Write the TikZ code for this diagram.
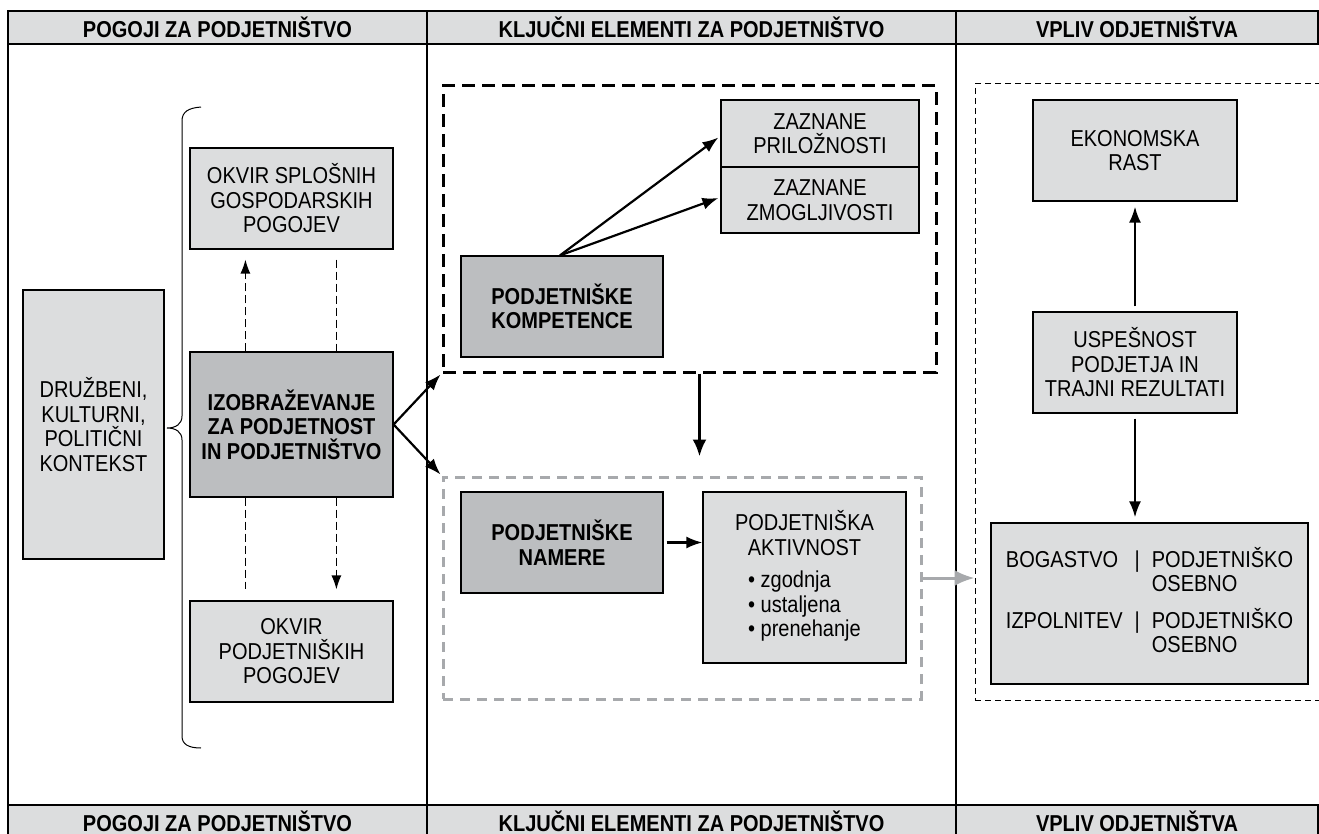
\documentclass[tikz,border=0pt]{standalone}
\usepackage{fontspec}
\setmainfont[FakeStretch=0.87]{Liberation Sans}
\usetikzlibrary{arrows.meta,calc}
\definecolor{lightbox}{HTML}{DCDDDE}
\definecolor{darkbox}{HTML}{BCBEC0}
\definecolor{grayline}{HTML}{A7A9AC}
\tikzset{
  txt/.style={font=\fontsize{23}{24.5}\selectfont, align=center, inner sep=0pt},
  lbox/.style={txt, draw=black, line width=1.2pt, fill=lightbox},
  dbox/.style={txt, draw=black, line width=1.2pt, fill=darkbox, font=\fontsize{23}{24.5}\selectfont\bfseries},
  hdr/.style={txt, draw=black, line width=1.2pt, fill=lightbox, font=\fontsize{23}{24.5}\selectfont\bfseries},
  arr/.style={line width=2.2pt, -{Latex[length=16pt,width=12pt]}},
  dsh/.style={line width=1.2pt, dash pattern=on 8pt off 4pt},
  dtip/.style={-{Latex[length=14pt,width=10pt]}},
}
\begin{document}
\begin{tikzpicture}[x=1pt,y=-1pt]
\clip (0,0) rectangle (1319,834);
\fill[white] (0,0) rectangle (1319,834);
% frame
\draw[line width=1.2pt] (8,11) -- (8,840);
\draw[line width=1.2pt] (427,11) -- (427,840);
\draw[line width=1.2pt] (956,11) -- (956,840);
% headers
\node[hdr, minimum width=419, minimum height=33] (h1) at (217.5,27.5) {POGOJI ZA PODJETNIŠTVO};
\node[hdr, minimum width=529, minimum height=33] (h2) at (691.5,27.5) {KLJUČNI ELEMENTI ZA PODJETNIŠTVO};
\node[hdr, minimum width=362, minimum height=33] (h3) at (1137,27.5) {VPLIV ODJETNIŠTVA};
\node[hdr, minimum width=419, minimum height=33] (f1) at (217.5,821.5) {POGOJI ZA PODJETNIŠTVO};
\node[hdr, minimum width=529, minimum height=33] (f2) at (691.5,821.5) {KLJUČNI ELEMENTI ZA PODJETNIŠTVO};
\node[hdr, minimum width=362, minimum height=33] (f3) at (1137,821.5) {VPLIV ODJETNIŠTVA};
% column 1
\node[lbox, minimum width=141, minimum height=269] (ctx) at (93.5,424.5) {DRUŽBENI,\\KULTURNI,\\POLITIČNI\\KONTEKST};
\draw[line width=1pt] (201,107) .. controls (188,108) and (182,112) .. (182,121) -- (182,416) .. controls (182,424) and (176,428) .. (167,428) .. controls (176,428) and (182,432) .. (182,440) -- (182,736) .. controls (182,744) and (188,748) .. (201,748);
\node[lbox, minimum width=203, minimum height=101] (oks) at (291.5,198.5) {OKVIR SPLOŠNIH\\GOSPODARSKIH\\POGOJEV};
\node[dbox, minimum width=203, minimum height=145] (izo) at (291.5,424.5) {IZOBRAŽEVANJE\\ZA PODJETNOST\\IN PODJETNIŠTVO};
\node[lbox, minimum width=203, minimum height=101] (okp) at (291.5,651.5) {OKVIR\\PODJETNIŠKIH\\POGOJEV};
\draw[dsh,dtip] ([xshift=56pt]izo.north west) -- ([xshift=56pt,yshift=-10pt]oks.south west);
\draw[dsh] ([xshift=147pt,yshift=-10pt]oks.south west) -- ([xshift=147pt]izo.north west);
\draw[dsh] ([xshift=56pt]izo.south west) -- ([xshift=56pt,yshift=11pt]okp.north west);
\draw[dsh,dtip] ([xshift=147pt]izo.south west) -- ([xshift=147pt,yshift=11pt]okp.north west);
% column 2
\node[draw=black, line width=3pt, dash pattern=on 13pt off 7pt, minimum width=493, minimum height=286, inner sep=0pt] (comp) at (689.5,229) {};
\node[draw=grayline, line width=3pt, dash pattern=on 10pt off 7pt, minimum width=478, minimum height=222, inner sep=0pt] (grp) at (682,588) {};
\node[lbox, minimum width=198, minimum height=67] (zazP) at (820,133.5) {ZAZNANE\\PRILOŽNOSTI};
\node[lbox, minimum width=198, minimum height=66] (zazZ) at (820,200) {ZAZNANE\\ZMOGLJIVOSTI};
\node[dbox, minimum width=202, minimum height=101] (kom) at (562,306.5) {PODJETNIŠKE\\KOMPETENCE};
\node[dbox, minimum width=202, minimum height=101] (nam) at (562,542.5) {PODJETNIŠKE\\NAMERE};
\node[lbox, minimum width=203, minimum height=171] (akt) at (804.5,577.5) {PODJETNIŠKA\\AKTIVNOST\\[14pt]\begin{tabular}{@{}l@{}}• zgodnja\\• ustaljena\\• prenehanje\end{tabular}};
\draw[arr] ([xshift=-2pt]kom.north) -- ([xshift=-2pt,yshift=-4pt]zazP.west);
\draw[arr] ([xshift=-2pt]kom.north) -- ([xshift=-2pt,yshift=2pt]zazZ.west);
\draw[arr] (izo.east) -- ([xshift=-1pt,yshift=-1pt]comp.south west);
\draw[arr] (izo.east) -- ([xshift=-1pt,yshift=1pt]grp.north west);
\draw[line width=3pt, -{Latex[length=17pt,width=14pt]}, shorten >=19pt] ([xshift=10pt]comp.south) -- ([xshift=10pt]comp.south |- grp.north);
\draw[arr, shorten <=3pt] (nam.east) -- (nam.east -| akt.west);
% column 3
\node[draw=black, line width=1pt, dash pattern=on 6pt off 4pt, minimum width=355, minimum height=616, inner sep=0pt] (rbox) at (1152.5,392) {};
\node[lbox, minimum width=204, minimum height=101] (eko) at (1135,150.5) {EKONOMSKA\\RAST};
\node[lbox, minimum width=204, minimum height=101] (usp) at (1135,362.5) {USPEŠNOST\\PODJETJA IN\\TRAJNI REZULTATI};
\node[lbox, minimum width=317, minimum height=161] (bog) at (1149.5,603.5) {\begin{tabular}{@{}l@{\hspace{12pt}}c@{\hspace{12pt}}l@{}}BOGASTVO & | & PODJETNIŠKO\\ & & OSEBNO\\[9pt] IZPOLNITEV & | & PODJETNIŠKO\\ & & OSEBNO\end{tabular}};
\draw[arr, shorten <=5pt, shorten >=5pt] (usp.north) -- (eko.south);
\draw[arr, shorten <=5pt, shorten >=5pt] (usp.south) -- (usp.south |- bog.north);
\draw[grayline, line width=3pt, -{Latex[length=20pt,width=16pt]}] ([yshift=10pt]grp.east) -- ([yshift=10pt]grp.east -| rbox.west);
\end{tikzpicture}
\end{document}
